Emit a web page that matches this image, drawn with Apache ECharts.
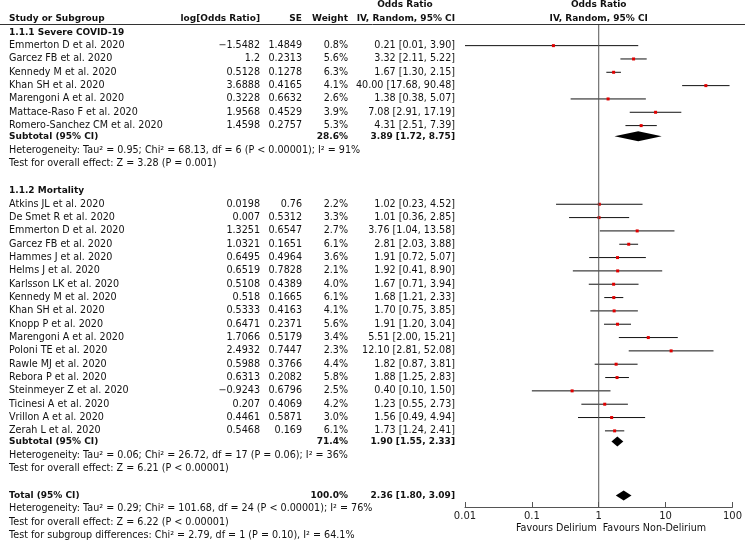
<!DOCTYPE html>
<html><head><meta charset="utf-8">
<script src="https://cdn.jsdelivr.net/npm/echarts@6/dist/echarts.min.js"></script>
<style>html,body{margin:0;padding:0;background:#fff}#c{width:745px;height:542px}</style>
</head><body><div id="c"></div>
<script>
// ---------- DATA ----------
const group1Title = '1.1.1 Severe COVID-19';
const studies1 = ['Emmerton D et al. 2020','Garcez FB et al. 2020','Kennedy M et al. 2020','Khan SH et al. 2020','Marengoni A et al. 2020','Mattace-Raso F et al. 2020','Romero-Sanchez CM et al. 2020'];
const logOR1 = [-1.5482, 1.2, 0.5128, 3.6888, 0.3228, 1.9568, 1.4598];
const se1 = [1.4849, 0.2313, 0.1278, 0.4165, 0.6632, 0.4529, 0.2757];
const weight1 = [0.8, 5.6, 6.3, 4.1, 2.6, 3.9, 5.3];
const or1 = [0.21, 3.32, 1.67, 40.00, 1.38, 7.08, 4.31];
const lo1 = [0.01, 2.11, 1.30, 17.68, 0.38, 2.91, 2.51];
const hi1 = [3.90, 5.22, 2.15, 90.48, 5.07, 17.19, 7.39];

const group2Title = '1.1.2 Mortality';
const studies2 = ['Atkins JL et al. 2020','De Smet R et al. 2020','Emmerton D et al. 2020','Garcez FB et al. 2020','Hammes J et al. 2020','Helms J et al. 2020','Karlsson LK et al. 2020','Kennedy M et al. 2020','Khan SH et al. 2020','Knopp P et al. 2020','Marengoni A et al. 2020','Poloni TE et al. 2020','Rawle MJ et al. 2020','Rebora P et al. 2020','Steinmeyer Z et al. 2020','Ticinesi A et al. 2020','Vrillon A et al. 2020','Zerah L et al. 2020'];
const logOR2 = [0.0198, 0.007, 1.3251, 1.0321, 0.6495, 0.6519, 0.5108, 0.518, 0.5333, 0.6471, 1.7066, 2.4932, 0.5988, 0.6313, -0.9243, 0.207, 0.4461, 0.5468];
const se2 = [0.76, 0.5312, 0.6547, 0.1651, 0.4964, 0.7828, 0.4389, 0.1665, 0.4163, 0.2371, 0.5179, 0.7447, 0.3766, 0.2082, 0.6796, 0.4069, 0.5871, 0.169];
const weight2 = [2.2, 3.3, 2.7, 6.1, 3.6, 2.1, 4.0, 6.1, 4.1, 5.6, 3.4, 2.3, 4.4, 5.8, 2.5, 4.2, 3.0, 6.1];
const or2 = [1.02, 1.01, 3.76, 2.81, 1.91, 1.92, 1.67, 1.68, 1.70, 1.91, 5.51, 12.10, 1.82, 1.88, 0.40, 1.23, 1.56, 1.73];
const lo2 = [0.23, 0.36, 1.04, 2.03, 0.72, 0.41, 0.71, 1.21, 0.75, 1.20, 2.00, 2.81, 0.87, 1.25, 0.10, 0.55, 0.49, 1.24];
const hi2 = [4.52, 2.85, 13.58, 3.88, 5.07, 8.90, 3.94, 2.33, 3.85, 3.04, 15.21, 52.08, 3.81, 2.83, 1.50, 2.73, 4.94, 2.41];

const subWeight = [28.6, 71.4];
const subOR = [3.89, 1.90];
const subLo = [1.72, 1.55];
const subHi = [8.75, 2.33];
const totalWeight = 100.0, totalOR = 2.36, totalLo = 1.80, totalHi = 3.09;

const het1 = 'Heterogeneity: Tau\u00b2 = 0.95; Chi\u00b2 = 68.13, df = 6 (P < 0.00001); I\u00b2 = 91%';
const eff1 = 'Test for overall effect: Z = 3.28 (P = 0.001)';
const het2 = 'Heterogeneity: Tau\u00b2 = 0.06; Chi\u00b2 = 26.72, df = 17 (P = 0.06); I\u00b2 = 36%';
const eff2 = 'Test for overall effect: Z = 6.21 (P < 0.00001)';
const hetT = 'Heterogeneity: Tau\u00b2 = 0.29; Chi\u00b2 = 101.68, df = 24 (P < 0.00001); I\u00b2 = 76%';
const effT = 'Test for overall effect: Z = 6.22 (P < 0.00001)';
const subDiff = 'Test for subgroup differences: Chi\u00b2 = 2.79, df = 1 (P = 0.10), I\u00b2 = 64.1%';

const tickValues = [0.01, 0.1, 1, 10, 100];
const favLeft = 'Favours Delirium', favRight = 'Favours Non-Delirium';

// ---------- LAYOUT ----------
const ROW_H = 13.33, Y0 = 18.3;
const toR = px => (px - Y0) / ROW_H;
const FONT = '"DejaVu Sans"';
const FS = 9.6, FSB = 9;
const COL = {name: 9, logor: 260, se: 302, weight: 348, ci: 455};

const cells = [];
const studyRows = [];
const diamonds = [];
function txt(x, r, text, align, bold) { cells.push({x, r, text, align: align || 'left', bold: !!bold}); }
const fmtNum = v => String(v).replace('-', '\u2212');
const fmtCI = (o, l, h) => o.toFixed(2) + ' [' + l.toFixed(2) + ', ' + h.toFixed(2) + ']';

txt(COL.ci - 50, -1, 'Odds Ratio', 'center', true);
txt(COL.name, 0, 'Study or Subgroup', 'left', true);
txt(COL.logor, 0, 'log[Odds Ratio]', 'right', true);
txt(COL.se, 0, 'SE', 'right', true);
txt(COL.weight, 0, 'Weight', 'right', true);
txt(COL.ci, 0, 'IV, Random, 95% CI', 'right', true);

let r = 1.05;
const groups = [
  {title: group1Title, s: studies1, l: logOR1, se: se1, w: weight1, o: or1, lo: lo1, hi: hi1, het: het1, eff: eff1},
  {title: group2Title, s: studies2, l: logOR2, se: se2, w: weight2, o: or2, lo: lo2, hi: hi2, het: het2, eff: eff2}
];
groups.forEach((g, gi) => {
  txt(COL.name, r, g.title, 'left', true);
  g.s.forEach((name, i) => {
    r += 1;
    txt(COL.name, r, name);
    txt(COL.logor, r, fmtNum(g.l[i]), 'right');
    txt(COL.se, r, fmtNum(g.se[i]), 'right');
    txt(COL.weight, r, g.w[i].toFixed(1) + '%', 'right');
    txt(COL.ci, r, fmtCI(g.o[i], g.lo[i], g.hi[i]), 'right');
    studyRows.push([g.o[i], g.lo[i], g.hi[i], r]);
  });
  r += 0.8;
  txt(COL.name, r, 'Subtotal (95% CI)', 'left', true);
  txt(COL.weight, r, subWeight[gi].toFixed(1) + '%', 'right', true);
  txt(COL.ci, r, fmtCI(subOR[gi], subLo[gi], subHi[gi]), 'right', true);
  diamonds.push([subOR[gi], subLo[gi], subHi[gi], r]);
  r += 1.05; txt(COL.name, r, g.het);
  r += 1; txt(COL.name, r, g.eff);
  r += 2.05;
});
r -= 0.05;
txt(COL.name, r, 'Total (95% CI)', 'left', true);
txt(COL.weight, r, totalWeight.toFixed(1) + '%', 'right', true);
txt(COL.ci, r, fmtCI(totalOR, totalLo, totalHi), 'right', true);
diamonds.push([totalOR, totalLo, totalHi, r]);
r += 1; txt(COL.name, r, hetT);
r += 1; txt(COL.name, r, effT);
r += 1; txt(COL.name, r, subDiff);

const RULE_R = toR(24.5);
const AXIS_PX = 507;

const chart = echarts.init(document.getElementById('c'), null, {renderer: 'canvas'});
const font = (b, s) => (b ? 'bold ' : '') + (s || (b ? FSB : FS)) + 'px ' + FONT;

chart.setOption({
  animation: false,
  backgroundColor: '#fff',
  grid: [
    {left: 465, width: 269, top: 0, height: AXIS_PX},
    {left: 0, right: 0, top: 0, height: 542}
  ],
  xAxis: [
    {gridIndex: 0, type: 'log', logBase: 10, min: 0.01, max: 100, position: 'bottom',
     axisLine: {show: true, onZero: false, lineStyle: {color: '#555', width: 1}},
     axisTick: {show: true, inside: true, length: 5, lineStyle: {color: '#555'}},
     minorTick: {show: false}, splitLine: {show: false},
     axisLabel: {show: true, margin: 4, color: '#222', fontFamily: 'DejaVu Sans', fontSize: 10,
       formatter: v => { const n = Number(Number(v).toPrecision(3)); return tickValues.indexOf(n) >= 0 ? String(n) : ''; }}},
    {gridIndex: 1, type: 'value', min: 0, max: 745, show: false}
  ],
  yAxis: [
    {gridIndex: 0, type: 'value', inverse: true, min: toR(0), max: toR(AXIS_PX), show: false},
    {gridIndex: 1, type: 'value', inverse: true, min: toR(0), max: toR(542), show: false}
  ],
  series: [
    {
      type: 'line', xAxisIndex: 0, yAxisIndex: 0, silent: true, symbol: 'none',
      data: [[1, RULE_R], [1, toR(AXIS_PX)]],
      lineStyle: {color: '#555', width: 1}
    },
    {
      type: 'custom', xAxisIndex: 0, yAxisIndex: 0, silent: true,
      data: studyRows,
      encode: {x: [0, 1, 2], y: 3},
      renderItem: (params, api) => {
        const y = api.value(3);
        const p = api.coord([api.value(0), y]);
        const a = api.coord([api.value(1), y]);
        const b = api.coord([api.value(2), y]);
        return {type: 'group', children: [
          {type: 'line', shape: {x1: a[0], y1: a[1], x2: b[0], y2: b[1]}, style: {stroke: '#111', lineWidth: 1}},
          {type: 'rect', shape: {x: p[0] - 1.5, y: p[1] - 1.5, width: 3, height: 3}, style: {fill: '#e00000'}}
        ]};
      }
    },
    {
      type: 'custom', xAxisIndex: 0, yAxisIndex: 0, silent: true,
      data: diamonds,
      encode: {x: [0, 1, 2], y: 3},
      renderItem: (params, api) => {
        const y = api.value(3);
        const p = api.coord([api.value(0), y]);
        const a = api.coord([api.value(1), y]);
        const b = api.coord([api.value(2), y]);
        const h = 5;
        return {type: 'polygon', shape: {points: [[a[0], p[1]], [p[0], p[1] - h], [b[0], p[1]], [p[0], p[1] + h]]}, style: {fill: '#000'}};
      }
    },
    {
      type: 'custom', xAxisIndex: 0, yAxisIndex: 0, silent: true,
      data: [[1, -1], [1, 0], [1, toR(528)], [1, toR(528)]],
      renderItem: (params, api) => {
        const p = api.coord([api.value(0), api.value(1)]);
        const spec = [
          {t: 'Odds Ratio', a: 'center', b: true, dx: 0},
          {t: 'IV, Random, 95% CI', a: 'center', b: true, dx: 0},
          {t: favLeft, a: 'right', b: false, dx: -2},
          {t: favRight, a: 'left', b: false, dx: 4}
        ][params.dataIndex];
        return {type: 'text', x: p[0] + spec.dx, y: p[1],
          style: {text: spec.t, font: font(spec.b), fill: '#111',
            textAlign: spec.a, textVerticalAlign: 'middle', align: spec.a, verticalAlign: 'middle'}};
      }
    },
    {
      type: 'custom', xAxisIndex: 1, yAxisIndex: 1, silent: true,
      data: cells.map(c => [c.x, c.r]),
      renderItem: (params, api) => {
        const c = cells[params.dataIndex];
        const p = api.coord([api.value(0), api.value(1)]);
        return {type: 'text', x: p[0], y: p[1],
          style: {text: c.text, font: font(c.bold), fill: '#111',
            textAlign: c.align, textVerticalAlign: 'middle', align: c.align, verticalAlign: 'middle'}};
      }
    },
    {
      type: 'line', xAxisIndex: 1, yAxisIndex: 1, silent: true, symbol: 'none',
      data: [[0, RULE_R], [745, RULE_R]],
      lineStyle: {color: '#333', width: 1}
    }
  ]
});
</script></body></html>
